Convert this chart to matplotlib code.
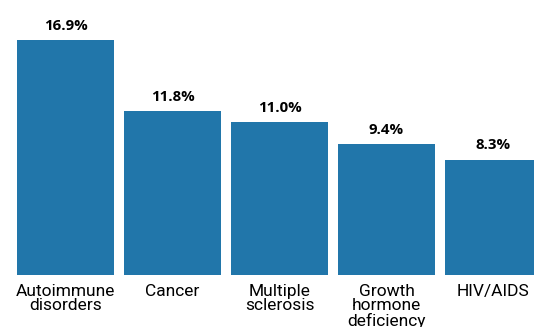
import matplotlib
matplotlib.use("Agg")
import matplotlib.pyplot as plt

# share of spending by condition
conditions = ["Autoimmune\ndisorders", "Cancer", "Multiple\nsclerosis",
              "Growth\nhormone\ndeficiency", "HIV/AIDS"]
shares = [16.9, 11.8, 11.0, 9.4, 8.3]
bar_color = "#2176aa"

fig = plt.figure(figsize=(5.34, 3.27), dpi=100)
ax = fig.add_axes([0, 52 / 327, 1, 275 / 327])

pos = list(range(len(conditions)))
bars = ax.bar(pos, shares, width=0.907, color=bar_color)

# value labels above each bar
for x, v in zip(pos, shares):
    ax.text(x, v + 1.05, "%.1f%%" % v, ha="center", va="center",
            fontsize=10.8, fontweight="bold", family="Open Sans")

ax.set_xlim(-0.612, 4.379)
ax.set_ylim(0, 19.8)
ax.set_xticks(pos)
ax.set_xticklabels(conditions, fontsize=12.5, family="Roboto", linespacing=0.95,
                   va="top")
ax.tick_params(axis="x", length=0, pad=6.5)
ax.set_yticks([])
for s in ax.spines.values():
    s.set_visible(False)

fig.savefig("out.png", dpi=100)
